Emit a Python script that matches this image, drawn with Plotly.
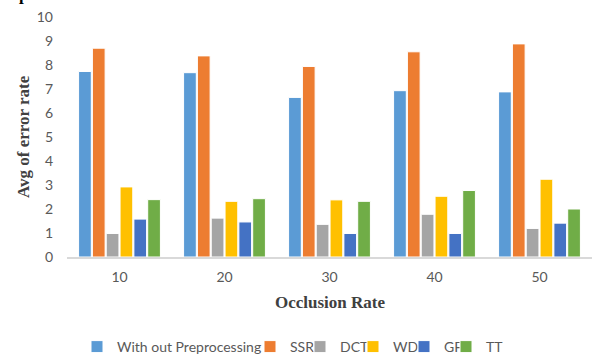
import plotly.graph_objects as go

categories = ["10", "20", "30", "40", "50"]
series_names = ["With out Preprocessing", "SSR", "DCT", "WD", "GF", "TT"]
without_pre = [7.73, 7.68, 6.65, 6.93, 6.88]
ssr = [8.70, 8.38, 7.94, 8.55, 8.88]
dct = [0.98, 1.62, 1.36, 1.78, 1.19]
wd = [2.92, 2.32, 2.38, 2.53, 3.24]
gf = [1.58, 1.46, 0.98, 0.98, 1.41]
tt = [2.39, 2.43, 2.32, 2.77, 2.00]
y_ticks = [0, 1, 2, 3, 4, 5, 6, 7, 8, 9, 10]

colors = ["#5B9BD5", "#ED7D31", "#A5A5A5", "#FFC000", "#4472C4", "#70AD47"]
values = [without_pre, ssr, dct, wd, gf, tt]
legend_ids = ["legend", "legend2", "legend3", "legend4", "legend5", "legend6"]
# page-pixel x where each legend entry's text begins in the reference
legend_text_px = [117, 290, 340, 393, 444, 486]

W, H = 592, 356
L, R, T = 67, 0, 17
B = H - 257
pw, ph = W - L - R, H - T - B


def px_x(px):
    return (px - L) / pw


def px_y(py):
    return (T + ph - py) / ph


fig = go.Figure()
for name, vals, col, lid in zip(series_names, values, colors, legend_ids):
    fig.add_trace(go.Bar(
        x=categories, y=vals, name=name, legend=lid,
        marker=dict(color=col, line=dict(color="white", width=1)),
    ))

tick_font = dict(family="Lato, Noto Sans, sans-serif", size=14, color="#595959")
title_font = dict(family="Liberation Serif, Times New Roman, serif", size=17, color="#404040")
legend_font = dict(family="Lato, Noto Sans, sans-serif", size=14, color="#595959")

legends = {}
for lid, tx in zip(legend_ids, legend_text_px):
    legends[lid] = dict(
        orientation="h", x=px_x(tx - 40), xanchor="left",
        y=px_y(347), yanchor="middle",
        font=legend_font, bgcolor="rgba(0,0,0,0)", borderwidth=0,
    )

fig.update_layout(
    width=W, height=H,
    margin=dict(l=L, r=R, t=T, b=B, autoexpand=False),
    paper_bgcolor="white", plot_bgcolor="white",
    barmode="group", bargap=0.21, bargroupgap=0.08,
    xaxis=dict(type="category", showline=True, linecolor="#D9D9D9", linewidth=2,
               showgrid=False, ticks="", tickfont=tick_font, ticklabelstandoff=6),
    yaxis=dict(range=[0, 10], tickvals=y_ticks, showgrid=False, zeroline=False,
               ticks="", tickfont=tick_font, ticklabelstandoff=13,
               ticklabeloverflow="allow"),
    showlegend=True,
    annotations=[
        dict(text="<b>Avg of error rate</b>", xref="paper", yref="paper",
             x=px_x(23), y=0.5, xanchor="center", yanchor="middle",
             textangle=-90, showarrow=False, font=title_font),
        dict(text="<b>Occlusion Rate</b>", xref="paper", yref="paper",
             x=0.5, y=px_y(302), xanchor="center", yanchor="middle",
             showarrow=False, font=title_font),
        dict(text="<b>impact.</b>", xref="paper", yref="paper",
             x=px_x(-2), y=px_y(6), xanchor="left", yanchor="bottom",
             showarrow=False,
             font=dict(family="Liberation Serif, Times New Roman, serif", size=17, color="black")),
    ],
    **legends,
)

fig.write_html("out.html", config={"displayModeBar": False},
               post_script="document.body.style.margin='0px';")
